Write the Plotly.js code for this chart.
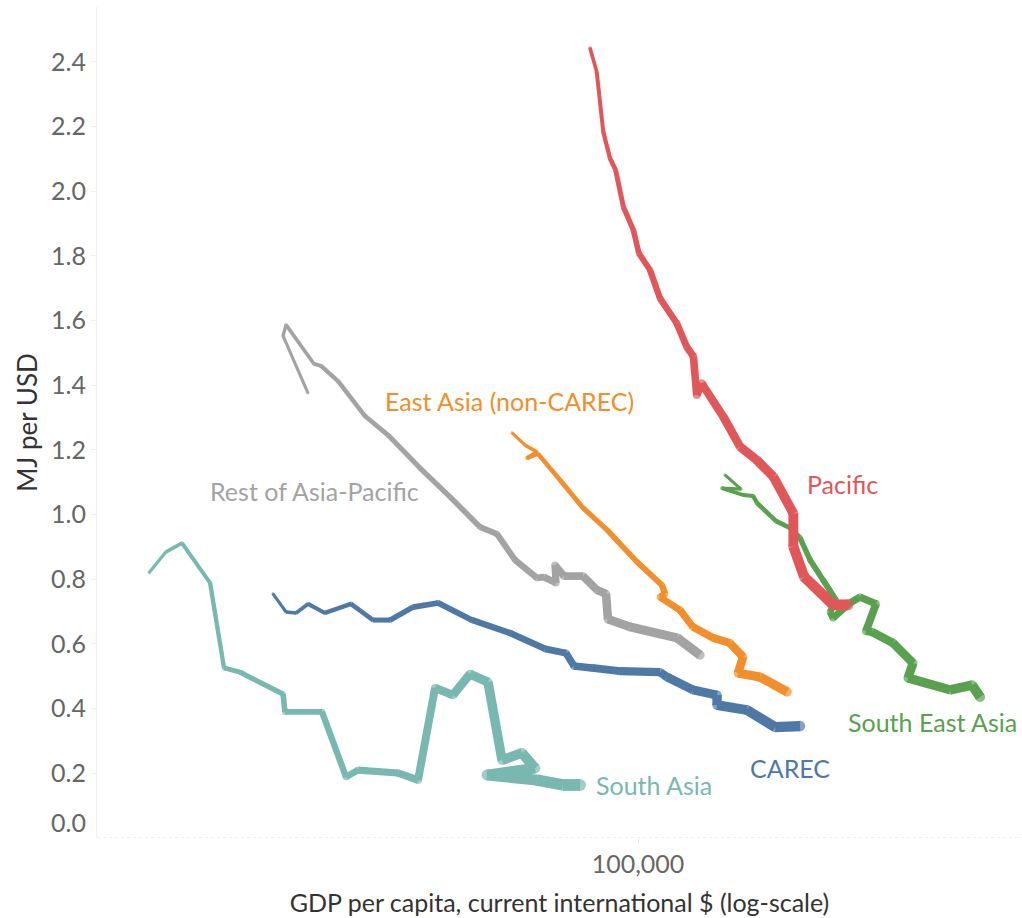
<!DOCTYPE html>
<html>
<head>
<meta charset="utf-8">
<script src="https://cdn.plot.ly/plotly-3.0.1.min.js"></script>
<style>html,body{margin:0;padding:0;background:#fff;}#chart{width:1022px;height:918px;}</style>
</head>
<body>
<div id="chart"></div>
<script>
// GDP per capita (log scale) and MJ per USD
const southAsiaX = [20020,21170,22310,24470,25620,27000,31110,31310,35360,38270,39810,45410,48500,51290,54410,57540,61050,63940,68280,71260,60850,71730,78130,82630];
const southAsiaY = [0.820,0.885,0.912,0.789,0.526,0.513,0.445,0.390,0.390,0.189,0.210,0.201,0.179,0.464,0.442,0.507,0.482,0.241,0.263,0.216,0.195,0.179,0.164,0.164];

const carecX = [30100,31420,32470,33770,35710,38900,41830,44230,47700,51800,57920,65640,73650,78910,81010,85960,94260,107500,110000,119800,129700,129700,143100,157000,170400];
const carecY = [0.755,0.699,0.696,0.724,0.696,0.724,0.674,0.674,0.714,0.727,0.674,0.634,0.585,0.572,0.532,0.526,0.516,0.513,0.498,0.458,0.442,0.411,0.396,0.343,0.346];

const restX = [33770,31110,31420,34450,35250,37280,40740,43940,48820,53880,59460,62890,66730,71730,73400,76360,76100,78390,83450,87390,90010,90590,97400,113700,122600];
const restY = [1.376,1.553,1.587,1.466,1.460,1.413,1.305,1.246,1.144,1.055,0.962,0.940,0.860,0.804,0.807,0.789,0.844,0.810,0.810,0.767,0.755,0.677,0.653,0.619,0.566];

const eastAsiaX = [66070,68960,71730,69410,71970,77370,83450,90310,99670,108200,109300,107500,114800,119800,128000,135300,141300,139000,149400,163300];
const eastAsiaY = [1.253,1.215,1.194,1.175,1.188,1.107,1.021,0.953,0.854,0.782,0.755,0.745,0.705,0.653,0.619,0.603,0.560,0.510,0.498,0.452];

const seAsiaX = [133100,140300,131800,141300,146000,147900,157500,164900,170400,176100,183800,191800,188100,189900,200900,207600,218800,211700,216000,231400,247100,243100,279200,300100,308100];
const seAsiaY = [1.123,1.079,1.082,1.061,1.058,1.036,0.980,0.959,0.928,0.860,0.798,0.736,0.699,0.680,0.727,0.745,0.724,0.640,0.637,0.603,0.541,0.495,0.458,0.473,0.436];

const pacificX = [85400,87300,89200,91200,92900,95300,98500,100300,104000,107500,113600,117400,120000,121300,123300,132400,139900,147800,156100,166700,166700,172700,190100,199500];
const pacificY = [2.443,2.370,2.184,2.102,2.066,1.952,1.880,1.808,1.757,1.669,1.592,1.519,1.489,1.370,1.406,1.303,1.210,1.169,1.117,1.004,0.901,0.808,0.721,0.721];

const seriesNames = ['South Asia','CAREC','Rest of Asia-Pacific','East Asia (non-CAREC)','South East Asia','Pacific'];
const xTickVals = [100000];
const xTickText = ['100,000'];
const yTickVals = [0.2,0.4,0.6,0.8,1.0,1.2,1.4,1.6,1.8,2.0,2.2,2.4];

const series = [
  {x: southAsiaX, y: southAsiaY, color: '#78b8b1', w0: 3, w1: 12},
  {x: carecX, y: carecY, color: '#4e79a7', w0: 3, w1: 10.5},
  {x: restX, y: restY, color: '#a3a3a3', w0: 3, w1: 9.5},
  {x: eastAsiaX, y: eastAsiaY, color: '#f28e2b', w0: 3, w1: 9.5},
  {x: seAsiaX, y: seAsiaY, color: '#59a14f', w0: 3, w1: 10},
  {x: pacificX, y: pacificY, color: '#e15759', w0: 3.5, w1: 11}
];

const traces = [];
series.forEach(s => {
  const n = s.x.length;
  for (let i = 0; i < n - 1; i++) {
    const w = s.w0 + (s.w1 - s.w0) * (i + 0.5) / (n - 1);
    traces.push({
      x: [s.x[i], s.x[i + 1]], y: [s.y[i], s.y[i + 1]],
      mode: 'lines', type: 'scatter', line: {color: s.color, width: w},
      hoverinfo: 'skip', showlegend: false
    });
  }
  const sizes = s.x.map((_, i) => s.w0 + (s.w1 - s.w0) * i / (n - 1));
  traces.push({
    x: s.x, y: s.y, mode: 'markers', type: 'scatter',
    marker: {color: s.color, size: sizes, line: {width: 0}},
    hoverinfo: 'skip', showlegend: false
  });
});

const fam = 'Lato, "Open Sans", sans-serif';
const labelFont = {family: fam, size: 25};
function lab(text, px, py, color, anchor) {
  return {text: text, xref: 'paper', yref: 'paper', x: (px - 97) / 925, y: (838 - py) / 831,
    xanchor: anchor || 'left', yanchor: 'middle', showarrow: false, font: Object.assign({}, labelFont, {color: color})};
}

const layout = {
  width: 1022, height: 918,
  margin: {l: 97, r: 0, t: 7, b: 80},
  paper_bgcolor: '#ffffff', plot_bgcolor: '#ffffff',
  font: {family: fam, color: '#666666'},
  xaxis: {
    type: 'log', range: [4.2271, 5.5486],
    tickvals: xTickVals, ticktext: xTickText,
    showgrid: false, zeroline: false, showline: false,
    ticks: 'outside', ticklen: 4, tickcolor: '#e8e8e8',
    tickfont: {size: 25, color: '#666666'},
    title: {text: 'GDP per capita, current international $ (log-scale)', font: {size: 25, color: '#333333'}, standoff: 17}
  },
  yaxis: {
    range: [0, 2.570],
    tickvals: yTickVals, tickformat: '.1f',
    showgrid: false, zeroline: false,
    showline: true, linecolor: '#f0f0f0', linewidth: 1,
    ticks: 'outside', ticklen: 5, tickcolor: '#eeeeee',
    tickfont: {size: 25, color: '#666666'},
    title: {text: 'MJ per USD', font: {size: 26, color: '#333333'}, standoff: 5}
  },
  shapes: [
    {type: 'line', xref: 'paper', yref: 'y', x0: 0, x1: 1, y0: 0, y1: 0,
     line: {color: '#e4e4e4', width: 1, dash: 'dot'}}
  ],
  annotations: [
    lab(seriesNames[3], 383, 401, '#f28e2b'),
    lab(seriesNames[2], 208, 491, '#a3a3a3'),
    lab(seriesNames[5], 805, 484, '#e15759'),
    lab(seriesNames[4], 1019, 722, '#59a14f', 'right'),
    lab(seriesNames[1], 748, 768, '#4e79a7'),
    lab(seriesNames[0], 594, 785, '#78b8b1'),
    {text: '0.0', xref: 'paper', yref: 'y', x: 0, y: 0, xanchor: 'right', yanchor: 'middle',
     xshift: -9, yshift: 16, showarrow: false, font: {family: fam, size: 25, color: '#666666'}}
  ]
};

Plotly.newPlot('chart', traces, layout, {displayModeBar: false, staticPlot: true});
</script>
</body>
</html>
